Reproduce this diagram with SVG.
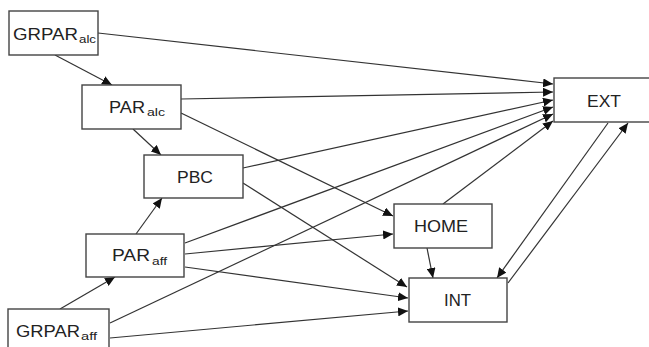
<svg xmlns="http://www.w3.org/2000/svg" width="649" height="347" viewBox="0 0 649 347">
<style>
.box{fill:#fff;stroke:#444;stroke-width:1.4}
.lbl{font-family:"Liberation Sans",Arial,sans-serif;font-size:16px;fill:#222}
.sub{font-family:"Liberation Sans",Arial,sans-serif;font-size:11px;fill:#222}
.c{stroke:#333;stroke-width:1.2;fill:none;marker-end:url(#ah)}
</style>
<defs>
<marker id="ah" markerUnits="userSpaceOnUse" markerWidth="11" markerHeight="9" refX="10" refY="4.5" orient="auto">
<path d="M0,0 L10,4.5 L0,9 Z" fill="#111"/>
</marker>
</defs>
<rect width="649" height="347" fill="#fff"/>
<g id="connectors">
<line class="c" x1="55" y1="55" x2="112" y2="85"/>
<line class="c" x1="98" y1="33" x2="553" y2="84"/>
<line class="c" x1="181" y1="99" x2="553" y2="92"/>
<line class="c" x1="133" y1="129" x2="161" y2="155"/>
<line class="c" x1="181" y1="113" x2="393" y2="216"/>
<line class="c" x1="243" y1="168" x2="553" y2="100"/>
<line class="c" x1="243" y1="183" x2="407" y2="287"/>
<line class="c" x1="136" y1="234" x2="162" y2="198"/>
<line class="c" x1="185" y1="243" x2="553" y2="107"/>
<line class="c" x1="185" y1="254" x2="393" y2="234"/>
<line class="c" x1="185" y1="267" x2="408" y2="298"/>
<line class="c" x1="60" y1="309" x2="115" y2="277"/>
<line class="c" x1="110" y1="323" x2="553" y2="114"/>
<line class="c" x1="110" y1="338" x2="408" y2="311"/>
<line class="c" x1="443" y1="204" x2="553" y2="121"/>
<line class="c" x1="427" y1="248" x2="433" y2="278"/>
<line class="c" x1="608" y1="123" x2="497" y2="278"/>
<line class="c" x1="508" y1="283" x2="628" y2="123"/>
</g>
<g id="GRPAR_alc">
<rect class="box" x="9" y="11" width="89" height="44"/>
<text class="lbl" x="13" y="40" textLength="65" lengthAdjust="spacingAndGlyphs">GRPAR</text>
<text class="sub" x="79" y="43" textLength="17" lengthAdjust="spacingAndGlyphs">alc</text>
</g>
<g id="PAR_alc">
<rect class="box" x="82" y="85" width="99" height="44"/>
<text class="lbl" x="109" y="113" textLength="36" lengthAdjust="spacingAndGlyphs">PAR</text>
<text class="sub" x="147" y="116" textLength="18" lengthAdjust="spacingAndGlyphs">alc</text>
</g>
<g id="PBC">
<rect class="box" x="144" y="155" width="99" height="43"/>
<text class="lbl" x="177" y="183" textLength="36" lengthAdjust="spacingAndGlyphs">PBC</text>
</g>
<g id="PAR_aff">
<rect class="box" x="86" y="234" width="98" height="43"/>
<text class="lbl" x="112" y="261" textLength="38" lengthAdjust="spacingAndGlyphs">PAR</text>
<text class="sub" x="152" y="265" textLength="15" lengthAdjust="spacingAndGlyphs">aff</text>
</g>
<g id="GRPAR_aff">
<rect class="box" x="8" y="309" width="101" height="46"/>
<text class="lbl" x="16" y="337" textLength="64" lengthAdjust="spacingAndGlyphs">GRPAR</text>
<text class="sub" x="81" y="340" textLength="16" lengthAdjust="spacingAndGlyphs">aff</text>
</g>
<g id="HOME">
<rect class="box" x="394" y="204" width="98" height="44"/>
<text class="lbl" x="414" y="232" textLength="54" lengthAdjust="spacingAndGlyphs">HOME</text>
</g>
<g id="INT">
<rect class="box" x="409" y="278" width="98" height="44"/>
<text class="lbl" x="444" y="306" textLength="27" lengthAdjust="spacingAndGlyphs">INT</text>
</g>
<g id="EXT">
<rect class="box" x="554" y="78" width="110" height="44"/>
<text class="lbl" x="587" y="107" textLength="34" lengthAdjust="spacingAndGlyphs">EXT</text>
</g>
</svg>
